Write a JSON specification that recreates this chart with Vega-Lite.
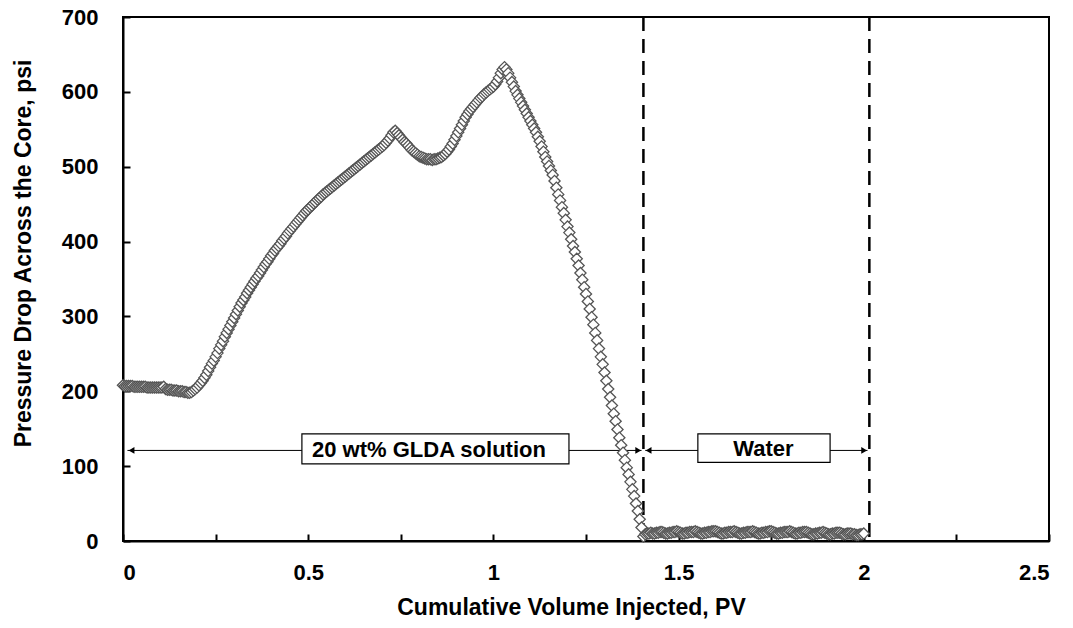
{
  "$schema": "https://vega.github.io/schema/vega-lite/v6.json",
  "width": 926,
  "height": 524,
  "autosize": {"type": "none"},
  "padding": {"left": 123, "top": 17, "right": 24, "bottom": 87},
  "background": "white",
  "datasets": {
    "pts": [
      {"pv":0.000,"dp":208},{"pv":0.005,"dp":207},{"pv":0.010,"dp":207},{"pv":0.015,"dp":207},{"pv":0.020,"dp":207},{"pv":0.025,"dp":207},{"pv":0.030,"dp":206},{"pv":0.035,"dp":206},{"pv":0.040,"dp":206},{"pv":0.045,"dp":206},
      {"pv":0.050,"dp":206},{"pv":0.055,"dp":206},{"pv":0.060,"dp":206},{"pv":0.065,"dp":205},{"pv":0.070,"dp":205},{"pv":0.075,"dp":205},{"pv":0.080,"dp":205},{"pv":0.085,"dp":205},{"pv":0.090,"dp":205},{"pv":0.095,"dp":205},
      {"pv":0.100,"dp":205},{"pv":0.105,"dp":205},{"pv":0.110,"dp":206},{"pv":0.115,"dp":203},{"pv":0.120,"dp":202},{"pv":0.125,"dp":202},{"pv":0.130,"dp":202},{"pv":0.135,"dp":201},{"pv":0.140,"dp":201},{"pv":0.145,"dp":201},
      {"pv":0.150,"dp":200},{"pv":0.155,"dp":200},{"pv":0.160,"dp":200},{"pv":0.165,"dp":199},{"pv":0.170,"dp":199},{"pv":0.175,"dp":198},{"pv":0.180,"dp":198},{"pv":0.185,"dp":199},{"pv":0.190,"dp":201},{"pv":0.195,"dp":203},
      {"pv":0.200,"dp":205},{"pv":0.205,"dp":208},{"pv":0.210,"dp":211},{"pv":0.215,"dp":214},{"pv":0.220,"dp":218},{"pv":0.225,"dp":222},{"pv":0.230,"dp":227},{"pv":0.235,"dp":232},{"pv":0.240,"dp":237},{"pv":0.245,"dp":241},
      {"pv":0.250,"dp":246},{"pv":0.255,"dp":251},{"pv":0.260,"dp":257},{"pv":0.265,"dp":262},{"pv":0.270,"dp":267},{"pv":0.275,"dp":273},{"pv":0.280,"dp":278},{"pv":0.285,"dp":283},{"pv":0.290,"dp":288},{"pv":0.295,"dp":293},
      {"pv":0.300,"dp":298},{"pv":0.305,"dp":303},{"pv":0.310,"dp":308},{"pv":0.315,"dp":313},{"pv":0.320,"dp":318},{"pv":0.325,"dp":322},{"pv":0.330,"dp":326},{"pv":0.335,"dp":331},{"pv":0.340,"dp":335},{"pv":0.345,"dp":339},
      {"pv":0.350,"dp":343},{"pv":0.355,"dp":347},{"pv":0.360,"dp":351},{"pv":0.365,"dp":354},{"pv":0.370,"dp":358},{"pv":0.375,"dp":362},{"pv":0.380,"dp":366},{"pv":0.385,"dp":370},{"pv":0.390,"dp":373},{"pv":0.395,"dp":377},
      {"pv":0.400,"dp":381},{"pv":0.405,"dp":384},{"pv":0.410,"dp":388},{"pv":0.415,"dp":391},{"pv":0.420,"dp":394},{"pv":0.425,"dp":397},{"pv":0.430,"dp":401},{"pv":0.435,"dp":404},{"pv":0.440,"dp":407},{"pv":0.445,"dp":411},
      {"pv":0.450,"dp":414},{"pv":0.455,"dp":417},{"pv":0.460,"dp":420},{"pv":0.465,"dp":423},{"pv":0.470,"dp":426},{"pv":0.475,"dp":429},{"pv":0.480,"dp":432},{"pv":0.485,"dp":435},{"pv":0.490,"dp":438},{"pv":0.495,"dp":441},
      {"pv":0.500,"dp":443},{"pv":0.505,"dp":446},{"pv":0.510,"dp":448},{"pv":0.515,"dp":451},{"pv":0.520,"dp":453},{"pv":0.525,"dp":456},{"pv":0.530,"dp":458},{"pv":0.535,"dp":460},{"pv":0.540,"dp":463},{"pv":0.545,"dp":465},
      {"pv":0.550,"dp":467},{"pv":0.555,"dp":469},{"pv":0.560,"dp":471},{"pv":0.565,"dp":473},{"pv":0.570,"dp":475},{"pv":0.575,"dp":477},{"pv":0.580,"dp":479},{"pv":0.585,"dp":481},{"pv":0.590,"dp":483},{"pv":0.595,"dp":485},
      {"pv":0.600,"dp":487},{"pv":0.605,"dp":489},{"pv":0.610,"dp":491},{"pv":0.615,"dp":493},{"pv":0.620,"dp":495},{"pv":0.625,"dp":497},{"pv":0.630,"dp":499},{"pv":0.635,"dp":501},{"pv":0.640,"dp":503},{"pv":0.645,"dp":505},
      {"pv":0.650,"dp":507},{"pv":0.655,"dp":509},{"pv":0.660,"dp":511},{"pv":0.665,"dp":513},{"pv":0.670,"dp":515},{"pv":0.675,"dp":517},{"pv":0.680,"dp":519},{"pv":0.685,"dp":521},{"pv":0.690,"dp":523},{"pv":0.695,"dp":525},
      {"pv":0.700,"dp":527},{"pv":0.705,"dp":529},{"pv":0.710,"dp":532},{"pv":0.715,"dp":535},{"pv":0.720,"dp":538},{"pv":0.725,"dp":542},{"pv":0.730,"dp":546},{"pv":0.735,"dp":548},{"pv":0.740,"dp":545},{"pv":0.745,"dp":542},
      {"pv":0.750,"dp":539},{"pv":0.755,"dp":536},{"pv":0.760,"dp":533},{"pv":0.765,"dp":531},{"pv":0.770,"dp":528},{"pv":0.775,"dp":525},{"pv":0.780,"dp":522},{"pv":0.785,"dp":520},{"pv":0.790,"dp":518},{"pv":0.795,"dp":516},
      {"pv":0.800,"dp":514},{"pv":0.805,"dp":513},{"pv":0.810,"dp":512},{"pv":0.815,"dp":511},{"pv":0.820,"dp":510},{"pv":0.825,"dp":510},{"pv":0.830,"dp":510},{"pv":0.835,"dp":509},{"pv":0.840,"dp":510},{"pv":0.845,"dp":510},
      {"pv":0.850,"dp":511},{"pv":0.855,"dp":512},{"pv":0.860,"dp":513},{"pv":0.865,"dp":515},{"pv":0.870,"dp":517},{"pv":0.875,"dp":520},{"pv":0.880,"dp":523},{"pv":0.885,"dp":527},{"pv":0.890,"dp":531},{"pv":0.895,"dp":536},
      {"pv":0.900,"dp":541},{"pv":0.905,"dp":546},{"pv":0.910,"dp":551},{"pv":0.915,"dp":556},{"pv":0.920,"dp":561},{"pv":0.925,"dp":566},{"pv":0.930,"dp":570},{"pv":0.935,"dp":574},{"pv":0.940,"dp":577},{"pv":0.945,"dp":580},
      {"pv":0.950,"dp":583},{"pv":0.955,"dp":586},{"pv":0.960,"dp":589},{"pv":0.965,"dp":592},{"pv":0.970,"dp":594},{"pv":0.975,"dp":597},{"pv":0.980,"dp":599},{"pv":0.985,"dp":601},{"pv":0.990,"dp":603},{"pv":0.995,"dp":605},
      {"pv":1.000,"dp":607},{"pv":1.005,"dp":610},{"pv":1.010,"dp":614},{"pv":1.015,"dp":619},{"pv":1.020,"dp":625},{"pv":1.025,"dp":630},{"pv":1.030,"dp":633},{"pv":1.035,"dp":630},{"pv":1.040,"dp":625},{"pv":1.045,"dp":619},
      {"pv":1.050,"dp":613},{"pv":1.055,"dp":607},{"pv":1.060,"dp":601},{"pv":1.065,"dp":596},{"pv":1.070,"dp":591},{"pv":1.075,"dp":586},{"pv":1.080,"dp":581},{"pv":1.085,"dp":576},{"pv":1.090,"dp":571},{"pv":1.095,"dp":566},
      {"pv":1.100,"dp":561},{"pv":1.105,"dp":556},{"pv":1.110,"dp":551},{"pv":1.115,"dp":546},{"pv":1.120,"dp":540},{"pv":1.125,"dp":534},{"pv":1.130,"dp":527},{"pv":1.135,"dp":520},{"pv":1.140,"dp":513},{"pv":1.145,"dp":507},
      {"pv":1.150,"dp":501},{"pv":1.155,"dp":495},{"pv":1.160,"dp":489},{"pv":1.165,"dp":481},{"pv":1.170,"dp":472},{"pv":1.175,"dp":463},{"pv":1.180,"dp":455},{"pv":1.185,"dp":446},{"pv":1.190,"dp":438},{"pv":1.195,"dp":429},
      {"pv":1.200,"dp":420},{"pv":1.205,"dp":412},{"pv":1.210,"dp":403},{"pv":1.215,"dp":394},{"pv":1.220,"dp":386},{"pv":1.225,"dp":377},{"pv":1.230,"dp":368},{"pv":1.235,"dp":358},{"pv":1.240,"dp":349},{"pv":1.245,"dp":339},
      {"pv":1.250,"dp":330},{"pv":1.255,"dp":320},{"pv":1.260,"dp":310},{"pv":1.265,"dp":299},{"pv":1.270,"dp":289},{"pv":1.275,"dp":278},{"pv":1.280,"dp":268},{"pv":1.285,"dp":257},{"pv":1.290,"dp":246},{"pv":1.295,"dp":236},
      {"pv":1.300,"dp":225},{"pv":1.305,"dp":214},{"pv":1.310,"dp":203},{"pv":1.315,"dp":192},{"pv":1.320,"dp":181},{"pv":1.325,"dp":170},{"pv":1.330,"dp":160},{"pv":1.335,"dp":149},{"pv":1.340,"dp":138},{"pv":1.345,"dp":128},
      {"pv":1.350,"dp":118},{"pv":1.355,"dp":108},{"pv":1.360,"dp":98},{"pv":1.365,"dp":89},{"pv":1.370,"dp":79},{"pv":1.375,"dp":69},{"pv":1.380,"dp":60},{"pv":1.385,"dp":50},{"pv":1.390,"dp":40},{"pv":1.395,"dp":29},
      {"pv":1.400,"dp":18},{"pv":1.405,"dp":6},
      {"pv":1.410,"dp":9},{"pv":1.415,"dp":10},{"pv":1.420,"dp":10},{"pv":1.425,"dp":11},{"pv":1.430,"dp":10},{"pv":1.435,"dp":10},{"pv":1.440,"dp":11},{"pv":1.445,"dp":11},{"pv":1.450,"dp":12},{"pv":1.455,"dp":12},
      {"pv":1.460,"dp":11},{"pv":1.465,"dp":10},{"pv":1.470,"dp":10},{"pv":1.475,"dp":11},{"pv":1.480,"dp":11},{"pv":1.485,"dp":12},{"pv":1.490,"dp":12},{"pv":1.495,"dp":13},{"pv":1.500,"dp":12},{"pv":1.505,"dp":11},
      {"pv":1.510,"dp":10},{"pv":1.515,"dp":10},{"pv":1.520,"dp":11},{"pv":1.525,"dp":11},{"pv":1.530,"dp":12},{"pv":1.535,"dp":12},{"pv":1.540,"dp":12},{"pv":1.545,"dp":13},{"pv":1.550,"dp":12},{"pv":1.555,"dp":11},
      {"pv":1.560,"dp":10},{"pv":1.565,"dp":10},{"pv":1.570,"dp":11},{"pv":1.575,"dp":11},{"pv":1.580,"dp":12},{"pv":1.585,"dp":12},{"pv":1.590,"dp":13},{"pv":1.595,"dp":13},{"pv":1.600,"dp":13},{"pv":1.605,"dp":12},
      {"pv":1.610,"dp":11},{"pv":1.615,"dp":10},{"pv":1.620,"dp":10},{"pv":1.625,"dp":11},{"pv":1.630,"dp":11},{"pv":1.635,"dp":12},{"pv":1.640,"dp":12},{"pv":1.645,"dp":12},{"pv":1.650,"dp":13},{"pv":1.655,"dp":12},
      {"pv":1.660,"dp":11},{"pv":1.665,"dp":10},{"pv":1.670,"dp":10},{"pv":1.675,"dp":11},{"pv":1.680,"dp":11},{"pv":1.685,"dp":12},{"pv":1.690,"dp":12},{"pv":1.695,"dp":12},{"pv":1.700,"dp":13},{"pv":1.705,"dp":12},
      {"pv":1.710,"dp":11},{"pv":1.715,"dp":10},{"pv":1.720,"dp":10},{"pv":1.725,"dp":11},{"pv":1.730,"dp":11},{"pv":1.735,"dp":12},{"pv":1.740,"dp":12},{"pv":1.745,"dp":13},{"pv":1.750,"dp":13},{"pv":1.755,"dp":12},
      {"pv":1.760,"dp":11},{"pv":1.765,"dp":10},{"pv":1.770,"dp":10},{"pv":1.775,"dp":11},{"pv":1.780,"dp":11},{"pv":1.785,"dp":12},{"pv":1.790,"dp":12},{"pv":1.795,"dp":12},{"pv":1.800,"dp":13},{"pv":1.805,"dp":12},
      {"pv":1.810,"dp":11},{"pv":1.815,"dp":10},{"pv":1.820,"dp":10},{"pv":1.825,"dp":11},{"pv":1.830,"dp":11},{"pv":1.835,"dp":12},{"pv":1.840,"dp":12},{"pv":1.845,"dp":12},{"pv":1.850,"dp":11},{"pv":1.855,"dp":10},
      {"pv":1.860,"dp":9},{"pv":1.865,"dp":9},{"pv":1.870,"dp":10},{"pv":1.875,"dp":10},{"pv":1.880,"dp":11},{"pv":1.885,"dp":11},{"pv":1.890,"dp":12},{"pv":1.895,"dp":11},{"pv":1.900,"dp":10},{"pv":1.905,"dp":9},
      {"pv":1.910,"dp":9},{"pv":1.915,"dp":10},{"pv":1.920,"dp":10},{"pv":1.925,"dp":11},{"pv":1.930,"dp":11},{"pv":1.935,"dp":11},{"pv":1.940,"dp":10},{"pv":1.945,"dp":9},{"pv":1.950,"dp":9},{"pv":1.955,"dp":10},
      {"pv":1.960,"dp":10},{"pv":1.965,"dp":10},{"pv":1.970,"dp":9},{"pv":1.975,"dp":9},{"pv":1.980,"dp":8},{"pv":1.985,"dp":8},{"pv":1.990,"dp":9},{"pv":1.995,"dp":9},{"pv":2.000,"dp":10}
    ]
  },
  "layer": [
    {
      "data": {"values": [{"pv": 1.405}, {"pv": 2.015}]},
      "mark": {"type": "rule", "color": "black", "strokeWidth": 2.5, "strokeDash": [14, 8]},
      "encoding": {"x": {"field": "pv", "type": "quantitative"}}
    },
    {
      "data": {"values": [{"a": 0.012, "b": 1.4, "yv": 121}, {"a": 1.41, "b": 2.01, "yv": 121}]},
      "mark": {"type": "rule", "color": "black", "strokeWidth": 1},
      "encoding": {
        "x": {"field": "a", "type": "quantitative"},
        "x2": {"field": "b"},
        "y": {"field": "yv", "type": "quantitative"}
      }
    },
    {
      "data": {"values": [{"pv": 0.023, "yv": 121, "s": "triangle-left"}, {"pv": 1.391, "yv": 121, "s": "triangle-right"}, {"pv": 1.419, "yv": 121, "s": "triangle-left"}, {"pv": 2.001, "yv": 121, "s": "triangle-right"}]},
      "mark": {"type": "point", "filled": true, "color": "black", "size": 45, "opacity": 1},
      "encoding": {
        "x": {"field": "pv", "type": "quantitative"},
        "y": {"field": "yv", "type": "quantitative"},
        "shape": {"field": "s", "type": "nominal", "scale": null}
      }
    },
    {
      "data": {"name": "pts"},
      "mark": {"type": "point", "shape": "diamond", "filled": false, "fill": "white", "fillOpacity": 1, "stroke": "#555555", "strokeWidth": 1.3, "size": 125, "opacity": 1, "clip": false},
      "encoding": {
        "x": {
          "field": "pv", "type": "quantitative",
          "scale": {"domain": [0, 2.5], "nice": false, "zero": false},
          "axis": {
            "title": "Cumulative Volume Injected, PV",
            "values": [0, 0.25, 0.5, 0.75, 1, 1.25, 1.5, 1.75, 2, 2.25, 2.5],
            "labelExpr": "(datum.value * 2) % 1 == 0 ? format(datum.value, '~g') : ''",
            "labelPadding": 28,
            "titleX": 448,
            "titleY": 66,
            "titleBaseline": "middle"
          }
        },
        "y": {
          "field": "dp", "type": "quantitative",
          "scale": {"domain": [0, 700], "nice": false},
          "axis": {
            "title": "Pressure Drop Across the Core, psi",
            "values": [0, 50, 100, 150, 200, 250, 300, 350, 400, 450, 500, 550, 600, 650, 700],
            "labelExpr": "datum.value % 100 == 0 ? datum.label : ''",
            "labelPadding": 32,
            "titleX": -100,
            "titleY": 236,
            "titleBaseline": "middle"
          }
        }
      }
    },
    {
      "data": {"values": [{"a": 0.483, "b": 1.204, "lo": 103, "hi": 143}, {"a": 1.552, "b": 1.909, "lo": 105, "hi": 143}]},
      "mark": {"type": "rect", "fill": "white", "stroke": "black", "strokeWidth": 1.2},
      "encoding": {
        "x": {"field": "a", "type": "quantitative"},
        "x2": {"field": "b"},
        "y": {"field": "lo", "type": "quantitative"},
        "y2": {"field": "hi"}
      }
    },
    {
      "data": {"values": [{"pv": 0.826, "yv": 122, "t": "20 wt% GLDA solution"}, {"pv": 1.729, "yv": 123, "t": "Water"}]},
      "mark": {"type": "text", "font": "Liberation Sans", "fontWeight": "bold", "fontSize": 22, "color": "black", "align": "center", "baseline": "middle"},
      "encoding": {
        "x": {"field": "pv", "type": "quantitative"},
        "y": {"field": "yv", "type": "quantitative"},
        "text": {"field": "t"}
      }
    }
  ],
  "config": {
    "view": {"stroke": "black", "strokeWidth": 2},
    "axis": {
      "domainColor": "black", "domainWidth": 2,
      "tickColor": "black", "tickWidth": 2, "tickSize": -7,
      "grid": false,
      "labelFont": "Liberation Sans", "labelFontWeight": "bold", "labelFontSize": 22, "labelColor": "black",
      "titleFont": "Liberation Sans", "titleFontWeight": "bold", "titleFontSize": 23, "titleColor": "black"
    }
  }
}
